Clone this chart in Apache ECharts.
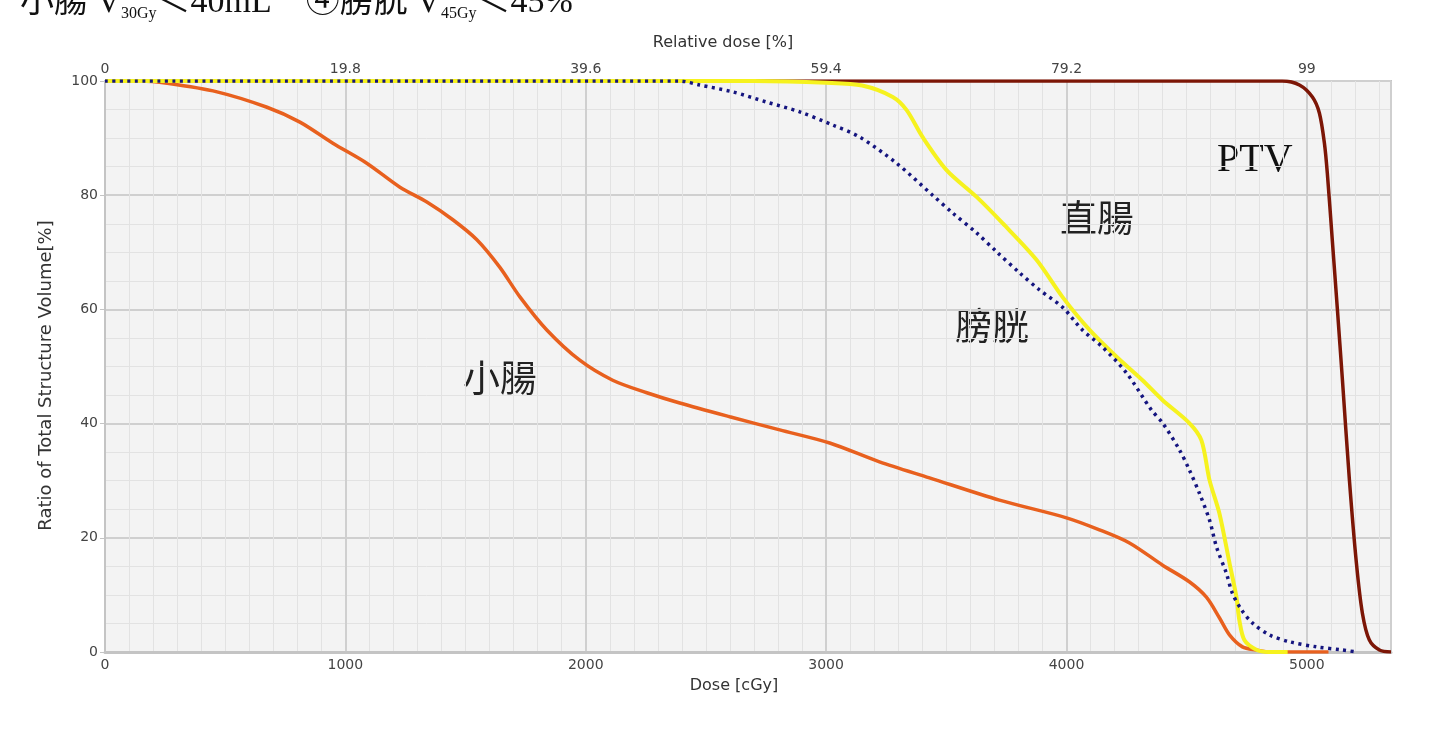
<!DOCTYPE html>
<html>
<head>
<meta charset="utf-8">
<script src="https://cdn.jsdelivr.net/npm/echarts@6/dist/echarts.min.js"></script>
<style>
  html, body { margin: 0; background: #fff; }
  #main { width: 1429px; height: 730px; }
</style>
</head>
<body>
<div id="main"></div>
<script>
// 小腸
const smallDose = [0, 150, 258, 466, 674, 811, 948, 1089, 1227, 1339, 1447, 1547, 1642, 1726, 1838, 1975, 2112, 2254, 2391, 2599, 2807, 3015, 3222, 3430, 3721, 4000, 4137, 4262, 4400, 4511, 4582, 4636, 4678, 4732, 4790, 4850, 5090]
const smallVol = [100, 100, 99.6, 98.1, 95.4, 92.8, 89.1, 85.6, 81.4, 78.8, 75.7, 72.2, 67.4, 62.2, 56.4, 51.1, 47.6, 45.4, 43.6, 41.2, 38.9, 36.6, 33.3, 30.5, 26.6, 23.5, 21.4, 19.1, 15.2, 12.3, 9.6, 6.0, 3.0, 0.9, 0.35, 0, 0]

// 直腸
const rectumDose = [0, 2700, 3000, 3150, 3277, 3335, 3401, 3501, 3626, 3734, 3875, 3983, 4096, 4208, 4316, 4400, 4511, 4561, 4595, 4636, 4678, 4707, 4719, 4740, 4790, 4840, 4920]
const rectumVol = [100, 100, 99.7, 99.2, 97.2, 94.9, 90.2, 84.4, 79.7, 75.1, 68.7, 62.2, 56.4, 51.7, 47.6, 44.1, 40.1, 37.1, 30.1, 24.3, 15.6, 9.6, 5.6, 2.1, 0.4, 0, 0]

// 膀胱
const bladderDose = [0, 2391, 2474, 2611, 2753, 2890, 3027, 3139, 3293, 3443, 3526, 3626, 3709, 3805, 3888, 3983, 4066, 4150, 4249, 4353, 4400, 4470, 4511, 4553, 4595, 4624, 4665, 4690, 4728, 4773, 4844, 4927, 5040, 5148, 5206]
const bladderVol = [100, 100, 99.3, 98.1, 96.3, 94.6, 92.3, 90.2, 85.6, 80.0, 76.9, 73.4, 70.1, 66.4, 63.4, 60.4, 56.4, 53.4, 48.9, 42.4, 40.1, 35.4, 31.9, 27.8, 23.1, 18.4, 13.8, 10.3, 7.4, 5.1, 3.0, 1.8, 0.9, 0.35, 0]

// PTV
const ptvDose = [0, 4898, 4969, 5023, 5052, 5073, 5085, 5106, 5127, 5148, 5177, 5206, 5231, 5260, 5302, 5350]
const ptvVol = [100, 100, 99.3, 97.2, 94.4, 89.1, 83.9, 72, 60, 47.6, 30.1, 15.6, 6.8, 2.1, 0.35, 0]

const doseMax = 5350
const relPerDose = 99 / 5000

const zip = (xs, ys) => xs.map((x, i) => [x, ys[i]])

const serifFont = '"Liberation Serif", "Noto Sans CJK TC", serif'
const cjkFont = '"Noto Sans CJK TC", "Noto Sans CJK JP", sans-serif'
const axisFont = '"DejaVu Sans", sans-serif'

const myChart = echarts.init(document.getElementById('main'))

const lineSeries = (name, xs, ys, color, width, type) => ({
  name,
  type: 'line',
  data: zip(xs, ys),
  showSymbol: false,
  smooth: 0.3,
  lineStyle: { color, width, type: type || 'solid' },
  silent: true,
  animation: false
})

myChart.setOption({
  animation: false,
  grid: {
    left: 105, right: 38, top: 81, bottom: 78,
    show: true,
    backgroundColor: '#f3f3f3',
    borderColor: '#c4c4c4',
    borderWidth: 2
  },
  xAxis: [
    {
      type: 'value',
      min: 0,
      max: doseMax,
      interval: 1000,
      name: 'Dose [cGy]',
      nameLocation: 'middle',
      nameGap: 26,
      nameTextStyle: { fontFamily: axisFont, fontSize: 16, color: '#333', padding: [0, 28, 0, 0] },
      axisLine: { show: true, lineStyle: { color: '#c4c4c4', width: 3 } },
      axisTick: { show: false },
      axisLabel: {
        fontFamily: axisFont, fontSize: 14, color: '#444', margin: 6,
        showMaxLabel: false,
        formatter: v => String(v)
      },
      splitLine: { show: true, lineStyle: { color: '#cfcfcf', width: 2 } },
      minorTick: { show: false, splitNumber: 10 },
      minorSplitLine: { show: true, lineStyle: { color: '#e2e2e2', width: 1 } }
    },
    {
      type: 'value',
      position: 'top',
      min: 0,
      max: doseMax,
      interval: 1000,
      name: 'Relative dose [%]',
      nameLocation: 'middle',
      nameGap: 30,
      nameTextStyle: { fontFamily: axisFont, fontSize: 16, color: '#333', padding: [0, 50, 0, 0] },
      axisLine: { show: false },
      axisTick: { show: false },
      axisLabel: {
        fontFamily: axisFont, fontSize: 14, color: '#444', margin: 5,
        showMaxLabel: false,
        formatter: v => String(+(v * relPerDose).toFixed(1))
      },
      splitLine: { show: false }
    }
  ],
  yAxis: {
    type: 'value',
    min: 0,
    max: 100,
    interval: 20,
    name: 'Ratio of Total Structure Volume[%]',
    nameLocation: 'middle',
    nameGap: 50,
    nameTextStyle: { fontFamily: axisFont, fontSize: 18, color: '#333', padding: [0, 18, 0, 0] },
    axisLine: { show: true, lineStyle: { color: '#c4c4c4', width: 2 } },
    axisTick: { show: true, length: 5, lineStyle: { color: '#c4c4c4' } },
    axisLabel: { fontFamily: axisFont, fontSize: 14, color: '#444', margin: 7 },
    splitLine: { show: true, lineStyle: { color: '#cfcfcf', width: 2 } },
    minorTick: { show: false, splitNumber: 4 },
    minorSplitLine: { show: true, lineStyle: { color: '#e2e2e2', width: 1 } }
  },
  series: [
    lineSeries('PTV', ptvDose, ptvVol, '#7c1606', 3.5),
    lineSeries('小腸', smallDose, smallVol, '#e8601e', 3.5),
    lineSeries('直腸', rectumDose, rectumVol, '#f6f21e', 4),
    lineSeries('膀胱', bladderDose, bladderVol, '#15157f', 3.5, [3, 4.5])
  ],
  graphic: [
    {
      type: 'text', left: 20, top: -14, silent: true,
      style: {
        text: '{a|小腸 V}{s|30Gy}{a|＜40mL　④膀胱 V}{s|45Gy}{a|＜45%}',
        rich: {
          a: { fontFamily: serifFont, fontSize: 34, lineHeight: 38, fill: '#111' },
          s: { fontFamily: serifFont, fontSize: 16, lineHeight: 28, fill: '#111', verticalAlign: 'bottom' }
        }
      }
    },
    { type: 'text', x: 1217, y: 160, silent: true,
      style: { text: 'PTV', fontFamily: serifFont, fontSize: 40, fill: '#111', verticalAlign: 'middle' } },
    { type: 'text', x: 1097, y: 218, silent: true,
      style: { text: '直腸', fontFamily: cjkFont, fontSize: 37, fill: '#222', align: 'center', verticalAlign: 'middle' } },
    { type: 'text', x: 992, y: 326, silent: true,
      style: { text: '膀胱', fontFamily: cjkFont, fontSize: 37, fill: '#222', align: 'center', verticalAlign: 'middle' } },
    { type: 'text', x: 500, y: 378, silent: true,
      style: { text: '小腸', fontFamily: cjkFont, fontSize: 37, fill: '#222', align: 'center', verticalAlign: 'middle' } }
  ]
})
</script>
</body>
</html>
